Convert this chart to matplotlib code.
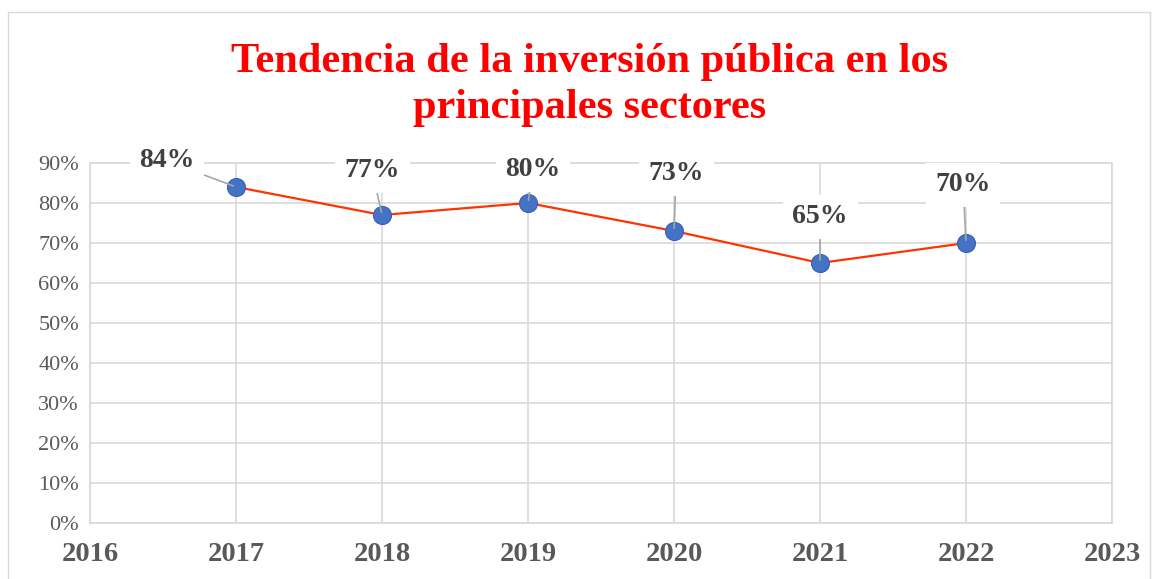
import matplotlib
matplotlib.use('Agg')
import matplotlib.pyplot as plt
from matplotlib.patches import Rectangle

# data
years = [2017, 2018, 2019, 2020, 2021, 2022]
values = [0.84, 0.77, 0.80, 0.73, 0.65, 0.70]
labels = ['84%', '77%', '80%', '73%', '65%', '70%']
year_ticks = [2016, 2017, 2018, 2019, 2020, 2021, 2022, 2023]
pct_ticks = [0.0, 0.1, 0.2, 0.3, 0.4, 0.5, 0.6, 0.7, 0.8, 0.9]

# label offsets in pixels (x, y) from each point
offsets = [(-69, 26), (-10, 44), (5, 33), (2, 57), (0, 46), (-3, 58)]

plt.rcParams['font.family'] = ['Liberation Serif', 'DejaVu Serif']

fig = plt.figure(figsize=(11.56, 5.79), dpi=100)
ax = fig.add_axes([0.0779, 0.0967, 0.8841, 0.6218])

# outer chart border
fig.patches.append(Rectangle((8 / 1156, -0.05), 1142 / 1156, 1 - 12 / 579 + 0.05,
                             transform=fig.transFigure, fill=False,
                             edgecolor='#D9D9D9', lw=1))

ax.plot(years, values, color='#FF3300', lw=1.6, zorder=3)
ax.plot(years, values, 'o', ms=13, color='#4472C4', mec='#3A64B0', mew=0.8, zorder=4)

for x, y, lab, (dx, dy) in zip(years, values, labels, offsets):
    ax.annotate(lab, xy=(x, y), xytext=(dx, dy), textcoords='offset pixels',
                ha='center', va='center', fontsize=20, fontweight='bold', color='#404040',
                bbox=dict(boxstyle='square,pad=0.35', fc='white', ec='none'),
                arrowprops=dict(arrowstyle='-', color='#A6A6A6', lw=1.2,
                                shrinkA=0, shrinkB=2),
                zorder=5)

ax.set_xlim(2016, 2023)
ax.set_ylim(0, 0.9)
ax.set_xticks(year_ticks)
ax.set_xticklabels([str(y) for y in year_ticks], fontsize=20.5, fontweight='bold', color='#595959')
ax.set_yticks(pct_ticks)
ax.set_yticklabels([f'{int(round(p * 100))}%' for p in pct_ticks], fontsize=16, color='#595959')
ax.tick_params(length=0, pad=8)
ax.tick_params(axis='x', pad=14)
ax.grid(True, color='#D9D9D9', lw=1.2)
ax.set_axisbelow(True)
for s in ax.spines.values():
    s.set_color('#D9D9D9')
    s.set_linewidth(1.2)

fig.text(0.51, 0.853, 'Tendencia de la inversión pública en los\nprincipales sectores',
         ha='center', va='center', fontsize=30.5, fontweight='bold', color='#FF0000',
         linespacing=1.25)

fig.savefig('out.png', dpi=100)
